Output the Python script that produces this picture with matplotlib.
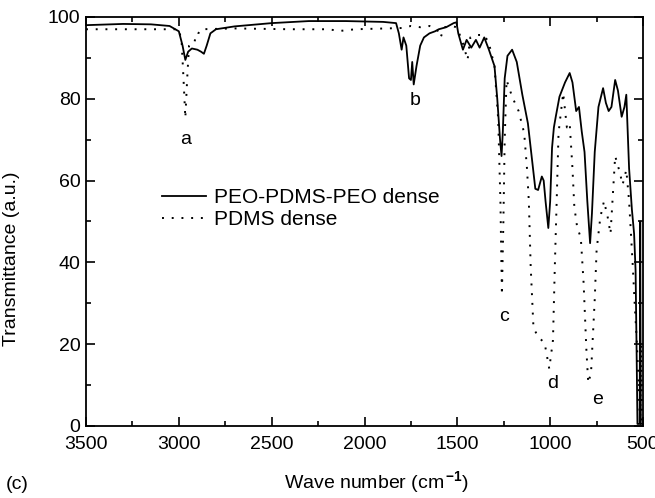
import numpy as np
import matplotlib
matplotlib.use("Agg")
import matplotlib.pyplot as plt

plt.rcParams['font.family'] = ['Liberation Sans', 'DejaVu Sans']
plt.rcParams['mathtext.fontset'] = 'custom'
plt.rcParams['mathtext.rm'] = 'Liberation Sans'
plt.rcParams['mathtext.bf'] = 'Liberation Sans:bold'

# PEO-PDMS-PEO dense (solid)
wn_copo = [3500, 3300, 3150, 3050, 3000, 2980, 2965, 2950, 2930, 2900, 2880, 2865,
           2850, 2830, 2800, 2700, 2500, 2300, 2100, 1900, 1830, 1815, 1800, 1790,
           1775, 1760, 1750, 1743, 1735, 1720, 1700, 1680, 1650, 1620, 1600, 1560,
           1520, 1505, 1495, 1470, 1450, 1425, 1400, 1380, 1355, 1330, 1300, 1285,
           1270, 1262, 1255, 1245, 1230, 1205, 1180, 1150, 1120, 1095, 1080, 1065,
           1045, 1035, 1025, 1010, 1000, 990, 980, 970, 950, 920, 895, 880, 860,
           845, 830, 815, 800, 785, 775, 760, 740, 715, 700, 685, 670, 650, 635,
           615, 600, 590, 575, 560, 548, 540, 535, 530, 525, 520, 518, 515, 512, 500]
tr_copo = [98.0, 98.3, 98.2, 97.8, 96.5, 93.0, 89.5, 91.5, 92.3, 92.0, 91.5, 91.0,
           93.0, 96.0, 97.0, 97.7, 98.5, 99.0, 99.0, 98.8, 98.5, 96.0, 92.0, 95.0,
           93.0, 85.0, 84.6, 89.0, 83.5, 88.0, 93.0, 95.0, 96.0, 96.5, 97.0, 97.5,
           98.5, 98.7, 96.0, 92.0, 94.4, 92.5, 94.4, 92.5, 95.0, 92.0, 88.0, 80.0,
           70.0, 66.0, 72.0, 85.0, 90.5, 92.0, 89.0, 81.0, 74.0, 64.0, 58.0, 57.7,
           61.0, 60.0, 55.0, 48.4, 55.0, 68.0, 73.0, 75.6, 80.5, 84.0, 86.3, 84.0, 77.0,
           78.0, 72.0, 67.0, 55.0, 44.7, 52.0, 67.0, 78.0, 82.6, 79.0, 77.0, 78.0, 84.6, 82.0,
           75.6, 78.0, 81.0, 63.0, 53.0, 47.0, 38.0, 20.0, 0.5, 0.5, 0.5, 0.5, 50.0, 0.5, 0.5]

# PDMS dense (dotted)
wn_pdms = [3500, 3100, 3000, 2985, 2975, 2965, 2955, 2945, 2925, 2905, 2895, 2880,
           2700, 2400, 2200, 2130, 2050, 1800, 1750, 1700, 1650, 1610, 1590, 1570,
           1530, 1505, 1490, 1470, 1445, 1430, 1400, 1355, 1330, 1300, 1280, 1268,
           1260, 1252, 1245, 1235, 1205, 1170, 1140, 1125, 1115, 1105, 1090, 1065,
           1030, 1005, 985, 975, 965, 955, 945, 930, 910, 895, 880, 870, 855, 835,
           820, 805, 795, 780, 760, 750, 730, 710, 690, 675, 650, 625, 610, 590,
           575, 565, 555, 545, 535, 525, 520, 515, 510, 505]
tr_pdms = [97.0, 97.0, 97.0, 94.0, 85.0, 75.3, 85.0, 93.0, 94.4, 94.2, 96.0, 97.0,
           97.2, 97.0, 97.0, 96.6, 97.0, 97.3, 97.8, 97.5, 97.8, 97.0, 95.0, 97.5,
           97.8, 97.5, 96.0, 93.6, 89.5, 95.0, 95.6, 95.6, 93.6, 88.0, 75.0, 55.0,
           32.0, 50.0, 70.0, 84.6, 80.5, 77.0, 71.6, 63.0, 55.0, 39.0, 24.0, 21.8,
           20.3, 14.0, 21.0, 39.0, 55.0, 71.6, 75.6, 81.4, 73.0, 74.0, 63.0, 53.6, 48.7, 46.0,
           35.0, 18.6, 10.5, 13.0, 31.0, 43.0, 51.0, 55.0, 51.0, 47.0, 66.0, 62.0, 59.0, 62.6,
           55.0, 47.0, 39.0, 30.0, 22.0, 12.0, 5.0, 1.0, 20.0, 0.0]

peak_labels = ['a', 'b', 'c', 'd', 'e']
peak_wn = [2966, 1727, 1247, 988, 746]
peak_tr = [70, 79.7, 26.7, 10.5, 6.4]

fig = plt.figure(figsize=(6.55, 4.98), dpi=100)
ax = fig.add_axes([0.1313, 0.1446, 0.8504, 0.8213])

ax.plot(wn_copo, tr_copo, color='black', lw=1.3, label='PEO-PDMS-PEO dense')
ax.plot(wn_pdms, tr_pdms, color='black', lw=1.4, linestyle=(0, (1, 4)),
        label='PDMS dense')

for lab, x, y in zip(peak_labels, peak_wn, peak_tr):
    ax.text(x, y, lab, fontsize=14, ha='center', va='center')

ax.set_xlim(3500, 500)
ax.set_ylim(0, 100)
ax.set_xticks(np.arange(3500, 499, -500))
ax.set_xticks(np.arange(3250, 500, -500), minor=True)
ax.set_yticks(np.arange(0, 101, 20))
ax.set_yticks(np.arange(10, 100, 20), minor=True)
ax.tick_params(which='both', direction='in', top=True, right=True,
               labelsize=14, width=1.2)
ax.tick_params(which='major', length=6.5)
ax.tick_params(which='minor', length=3.6)
ax.tick_params(axis='x', which='major', pad=7)
ax.tick_params(axis='y', which='major', pad=4)
for s in ax.spines.values():
    s.set_linewidth(1.3)

ax.set_xlabel(r'Wave number (cm$^{\,\mathbf{-1}}$)', fontsize=14)
ax.xaxis.set_label_coords(0.522, -0.105)
ax.set_ylabel('Transmittance (a.u.)', fontsize=14)
ax.yaxis.set_label_coords(-0.118, 0.41)

ax.legend(loc='upper left', bbox_to_anchor=(0.103, 0.627), frameon=False,
          fontsize=15, handlelength=2.1, handletextpad=0.4, labelspacing=0.15)

fig.text(0.009, 0.028, '(c)', fontsize=14, ha='left', va='center')

fig.savefig('out.png', dpi=100)
